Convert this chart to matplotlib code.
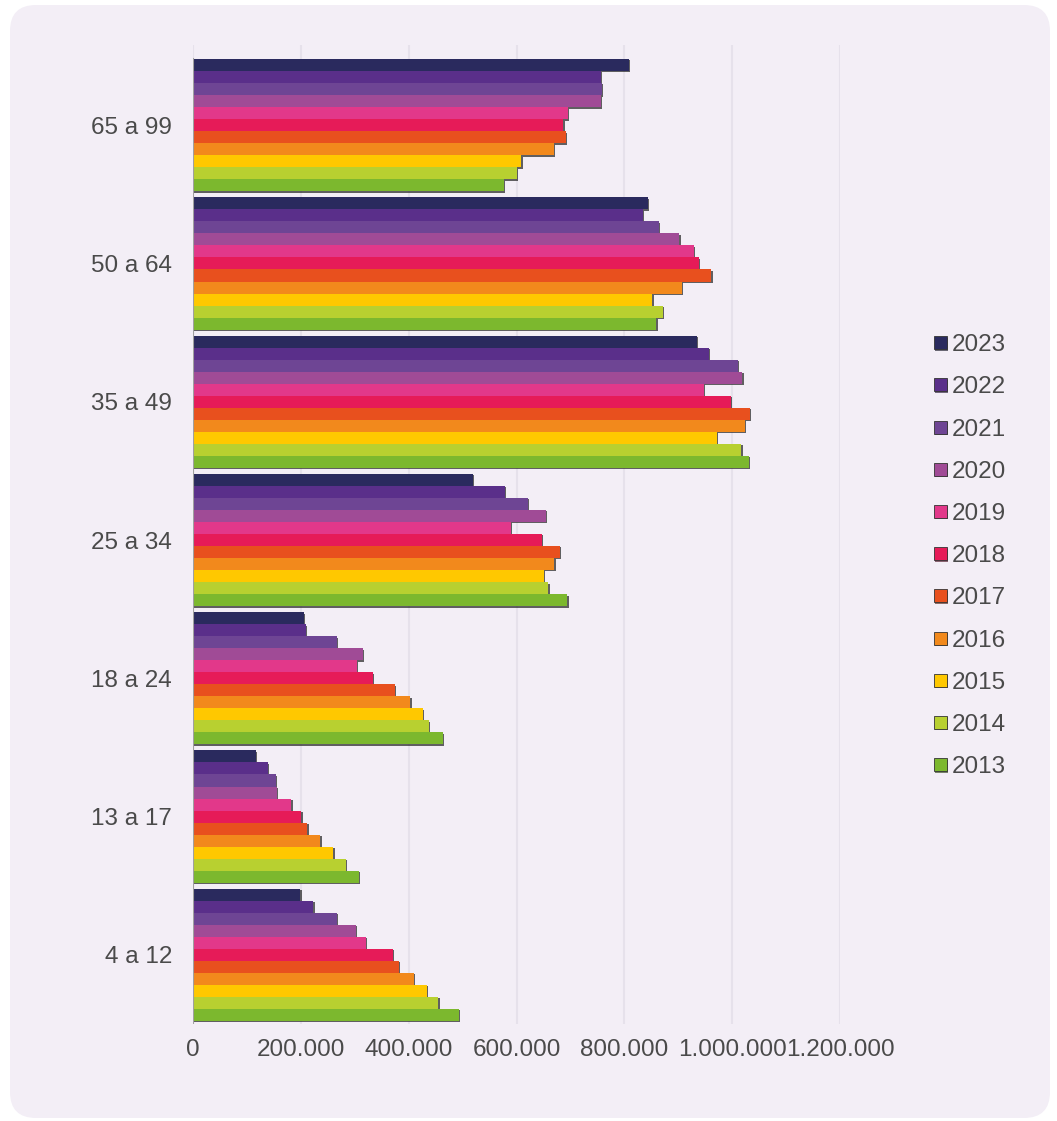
import matplotlib
matplotlib.use("Agg")
import matplotlib.pyplot as plt
from matplotlib.patches import FancyBboxPatch, Rectangle
from matplotlib.transforms import IdentityTransform
import matplotlib.patheffects as pe

plt.rcParams['font.family'] = ['Liberation Sans', 'DejaVu Sans']

categories = ["65 a 99", "50 a 64", "35 a 49", "25 a 34", "18 a 24", "13 a 17", "4 a 12"]
years = ["2023", "2022", "2021", "2020", "2019", "2018", "2017", "2016", "2015", "2014", "2013"]

v2023 = [808000, 844000, 934000, 519000, 206000, 116000, 199000]
v2022 = [756000, 834000, 957000, 578000, 209000, 139000, 223000]
v2021 = [758000, 864000, 1010000, 621000, 267000, 154000, 267000]
v2020 = [756000, 902000, 1019000, 654000, 315000, 156000, 302000]
v2019 = [695000, 929000, 947000, 590000, 304000, 182000, 321000]
v2018 = [687000, 938000, 998000, 647000, 334000, 201000, 371000]
v2017 = [692000, 961000, 1033000, 680000, 374000, 212000, 382000]
v2016 = [669000, 907000, 1023000, 670000, 403000, 236000, 410000]
v2015 = [609000, 852000, 972000, 651000, 426000, 260000, 434000]
v2014 = [600000, 871000, 1017000, 659000, 437000, 283000, 455000]
v2013 = [577000, 859000, 1031000, 694000, 463000, 307000, 493000]
series = [v2023, v2022, v2021, v2020, v2019, v2018, v2017, v2016, v2015, v2014, v2013]

colors = ["#2a2a5e", "#5a2f8a", "#6e4594", "#a04b96", "#e2388a", "#e61b58",
          "#e8501e", "#f2891c", "#ffc800", "#b8d030", "#7cb82e"]

xticks = [0, 200000, 400000, 600000, 800000, 1000000, 1200000]
xticklabels = ["0", "200.000", "400.000", "600.000", "800.000", "1.000.000", "1.200.000"]

W, H = 1057, 1121
fig = plt.figure(figsize=(W / 100, H / 100), dpi=100)
fig.patch.set_facecolor("white")

bg = FancyBboxPatch((10, 3), 1040, 1113, boxstyle="round,pad=0,rounding_size=26",
                    transform=IdentityTransform(), facecolor="#f3eef6", edgecolor="none", zorder=-5)
fig.patches.append(bg)

ax = fig.add_axes([193 / W, (H - 1024) / H, (840 - 193) / W, (1024 - 45) / H])
ax.set_zorder(2)
ax.set_facecolor("none")
ax.set_xlim(0, 1200000)
ax.set_ylim(-0.5, 6.58)
for s in ax.spines.values():
    s.set_visible(False)

n = len(years)
h = 0.087
gw = h * n
centers = [len(categories) - 1 - k for k in range(len(categories))]
shadow = [pe.SimplePatchShadow(offset=(1, -1), shadow_rgbFace="#222222", alpha=0.7), pe.Normal()]
for j, (yr, vals, c) in enumerate(zip(years, series, colors)):
    ys = [cy + gw / 2 - h / 2 - j * h for cy in centers]
    ax.barh(ys, vals, height=h, color=c, edgecolor="none", zorder=3 + j * 0.01,
            path_effects=shadow)

ax.set_xticks(xticks)
ax.set_xticklabels(xticklabels)
ax.set_yticks(centers)
ax.set_yticklabels(categories)
ax.tick_params(axis="x", length=0, pad=11, labelsize=17.5, labelcolor="#4a4a4a")
ax.tick_params(axis="y", length=0, pad=15, labelsize=17.5, labelcolor="#4a4a4a")
ax.xaxis.grid(True, color="#e6e1eb", lw=1.5, zorder=1)
ax.set_axisbelow(True)
top_edge = (centers[0] + gw / 2 + 0.5) / (6.58 + 0.5)
ax.axvline(0, ymin=0, ymax=top_edge, color="#a0a0a0", lw=1.5, zorder=5)

# legend
lx, ly0, dy = 934, 342.7, 42.2
for i, (yr, c) in enumerate(zip(years, colors)):
    cy = ly0 + i * dy
    fig.patches.append(Rectangle((lx, H - cy - 6.5), 13, 13, transform=IdentityTransform(),
                                 facecolor=c, edgecolor="#333333", lw=0.6, zorder=3,
                                 path_effects=[pe.SimplePatchShadow(offset=(1, -1), alpha=0.6), pe.Normal()]))
    fig.text(952 / W, (H - cy - 8.5) / H, yr, fontsize=17.5, color="#4a4a4a", va="baseline", ha="left")

fig.savefig("out.png", dpi=100)
